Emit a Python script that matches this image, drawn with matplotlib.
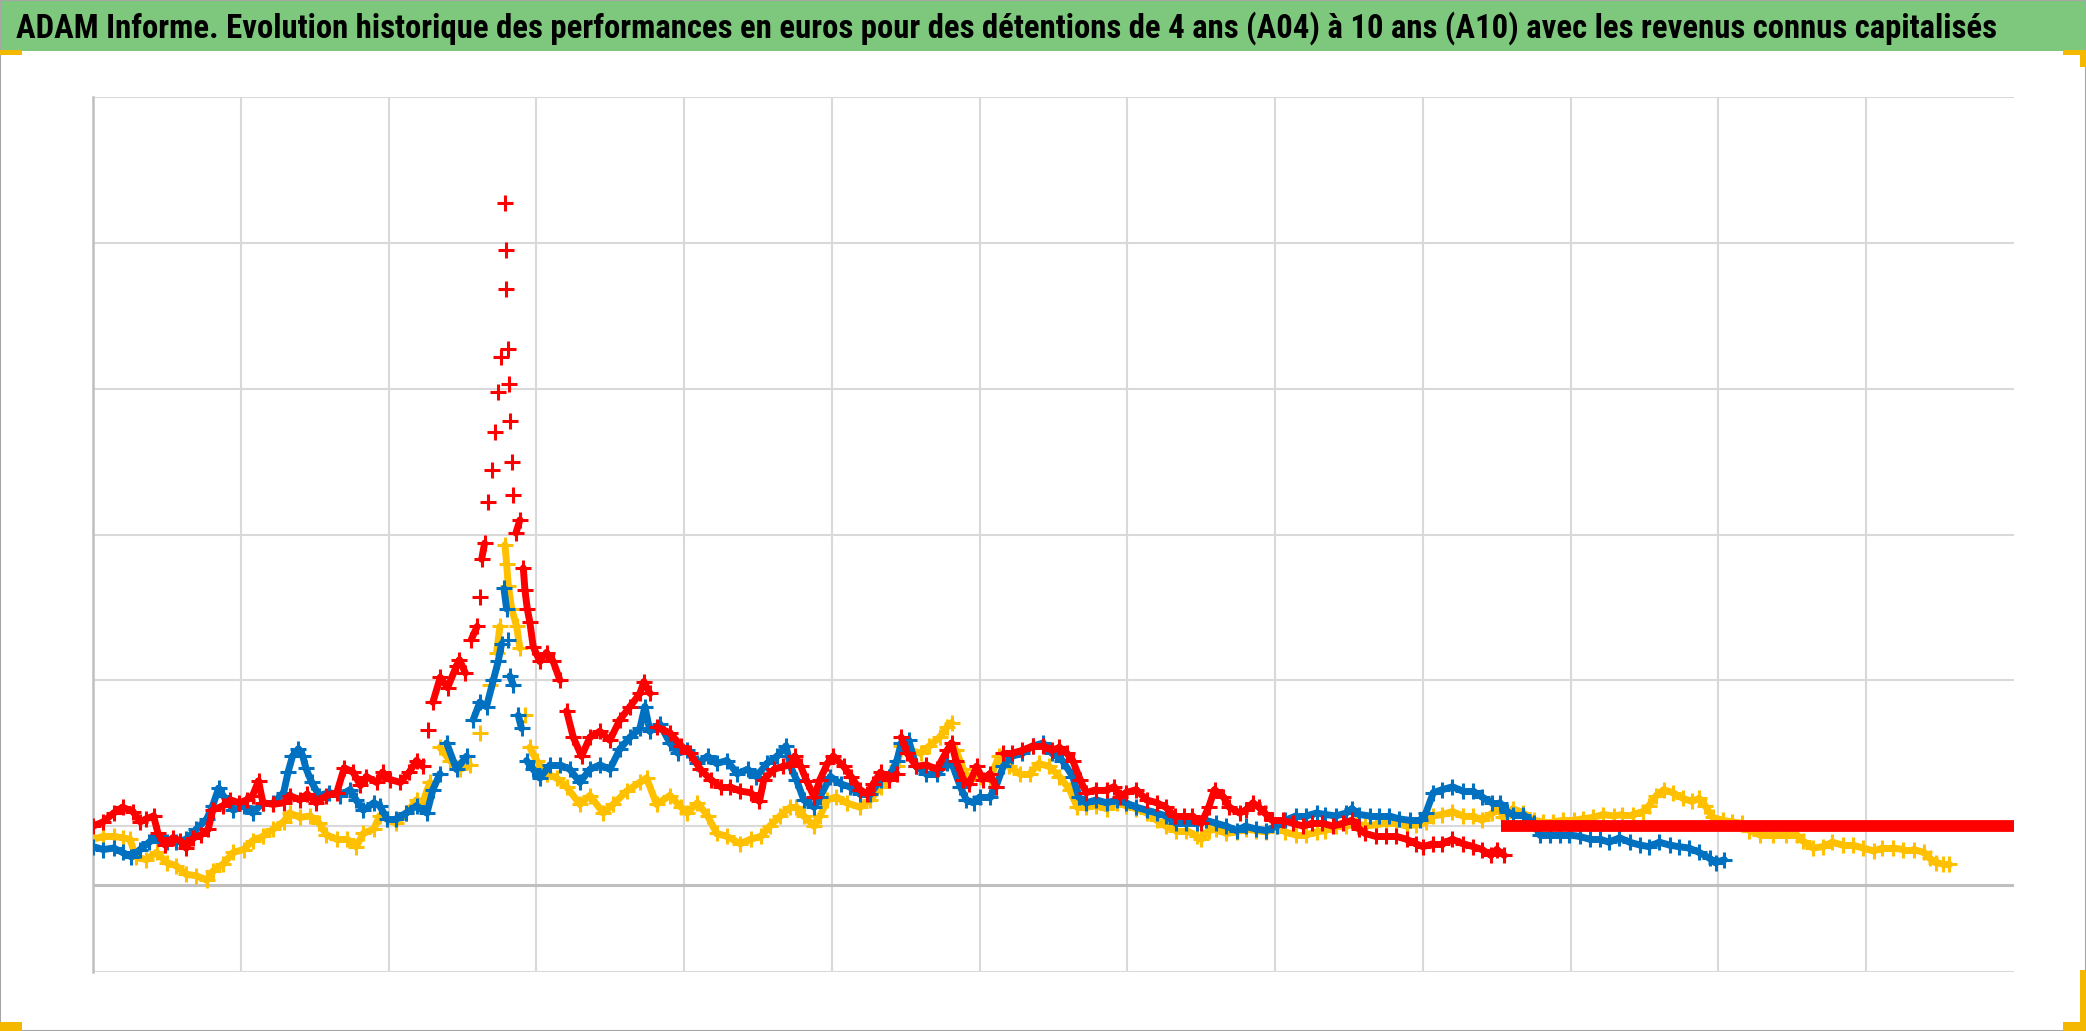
import matplotlib
matplotlib.use("Agg")
import matplotlib.pyplot as plt
from matplotlib import font_manager
from matplotlib.patches import Rectangle
from matplotlib.collections import LineCollection

# x: position along the time axis, in hundredths of a grid interval (13 intervals)
# y: performance, in hundredths of a grid unit (0 = horizontal axis)
title = ("ADAM Informe. Evolution historique des performances en euros pour des "
         "détentions de 4 ans (A04) à 10 ans (A10) avec les revenus connus capitalisés")

red_x = [0, 7, 14, 20, 27, 32, 36, 41, 44, 49,
         54, 59, 63, 68, 73, 78, 81, 88, 93, 99,
         104, 108, 112, 115, 122, 129, 133, 140, 145, 151,
         158, 165, 170, 176, 181, 185, 192, 196, 201, 208,
         214, 219, 223, 227, 230, 235, 240, 246, 248, 252,
         256, 260, 262, 263, 265, 267.5, 270, 272, 274, 276,
         278.5, 279.2, 279.7, 280.6, 281.5, 282.1, 283.3, 284.4, 286.2, 288.9,
         291.2, 292.3, 293.9, 295.6, 297.9, 302.4, 306.9, 311.4, 316, 320.5,
         325, 330.6, 336.3, 343, 349.8, 356.6, 363.4, 370.1, 372.8, 376.9,
         381.4, 390.4, 398, 404, 411, 418, 425, 431, 438, 445,
         451, 454, 461, 467, 472, 475, 479, 483, 488, 492,
         497, 501, 508, 513, 519, 524, 528, 533, 539, 544,
         547, 551, 557, 564, 571, 578, 581, 584, 589, 593,
         598, 602, 607, 611, 616, 622, 629, 636, 643, 649,
         654, 659, 663, 668, 672, 679, 686, 691, 695, 699,
         706, 713, 720, 726, 732, 738, 744, 750, 755, 759,
         765, 769, 776, 780, 785, 789, 793, 798, 805, 812,
         819, 825, 832, 839, 846, 852, 857, 861, 868, 875,
         882, 889, 895, 900, 907, 913, 920, 927, 934, 940,
         946, 950, 955]
red_y = [40, 43, 49, 53, 50, 43, 45, 47, 35, 27,
         32, 30, 25, 32, 34, 38, 51, 54, 58, 56,
         58, 61, 71, 56, 55, 56, 61, 58, 62, 56,
         61, 63, 80, 77, 68, 74, 70, 77, 72, 70,
         77, 85, 81, 106, 125, 142, 135, 150, 154, 145,
         168, 177, 197, 223, 234, 262, 284, 310, 338, 362,
         467, 435, 408, 367, 343, 318, 290, 267, 241, 250,
         217, 202, 189, 180, 163, 153, 159, 153, 140, 119,
         101, 88, 101, 105, 99, 113, 122, 131, 139, 131,
         108, 104, 95, 90, 79, 72, 67, 67, 64, 63,
         57, 72, 79, 81, 82, 88, 81, 71, 60, 72,
         83, 88, 81, 74, 65, 62, 69, 77, 72, 76,
         101, 90, 81, 82, 79, 92, 97, 85, 72, 69,
         81, 72, 76, 67, 90, 90, 92, 95, 95, 92,
         94, 90, 85, 72, 63, 65, 65, 67, 60, 63,
         65, 58, 56, 53, 47, 47, 47, 42, 53, 65,
         60, 53, 49, 51, 56, 53, 49, 44, 44, 42,
         40, 42, 42, 40, 42, 44, 38, 35, 33, 33,
         33, 31, 28, 26, 28, 28, 31, 28, 26, 24,
         20, 24, 20]

blue_x = [0, 7, 14, 20, 26, 32, 38, 44, 50, 56,
          63, 70, 77, 81, 85, 88, 95, 102, 108, 115,
          122, 129, 132, 135, 139, 142, 144, 148, 153, 160,
          167, 174, 178, 183, 190, 194, 199, 205, 212, 219,
          226, 230, 234.8, 239.3, 246, 252.8, 257.3, 261.8, 266.3, 270.9,
          274.2, 276.5, 278.1, 279.9, 281, 282.1, 284.4, 287.8, 290, 293.4,
          297.9, 302.4, 309.2, 316, 322.7, 329.5, 336.3, 343, 349.8, 356.6,
          363.4, 370.1, 373.5, 376.9, 383.6, 390.4, 396, 402, 409, 416,
          422, 429, 436, 443, 449, 456, 463, 469, 472, 476,
          481, 488, 492, 499, 506, 512, 519, 526, 533, 539,
          544, 547, 552, 557, 564, 571, 578, 582, 587, 591,
          596, 600, 607, 611, 616, 622, 629, 636, 643, 649,
          656, 663, 667, 672, 679, 686, 693, 699, 706, 713,
          720, 726, 733, 740, 747, 753, 760, 767, 774, 780,
          787, 794, 801, 807, 814, 821, 828, 834, 841, 848,
          852, 857, 864, 870, 877, 884, 891, 898, 902, 907,
          913, 920, 927, 934, 940, 947, 952, 957, 961, 968,
          975, 979, 986, 993, 999, 1006, 1013, 1020, 1026, 1033,
          1040, 1047, 1053, 1060, 1067, 1073, 1080, 1087, 1094, 1098,
          1104]
blue_y = [26, 24, 25, 22, 19, 24, 29, 33, 29, 29,
          31, 38, 45, 54, 66, 61, 51, 54, 49, 56,
          56, 63, 77, 88, 93, 88, 80, 70, 61, 63,
          61, 65, 58, 51, 56, 54, 45, 45, 49, 54,
          49, 65, 76, 97, 79, 88, 113, 125, 122, 140,
          153, 165, 203, 189, 168, 143, 137, 116, 107, 85,
          79, 73, 82, 82, 79, 70, 79, 82, 79, 93,
          101, 107, 122, 105, 110, 97, 90, 92, 83, 88,
          83, 85, 76, 79, 74, 83, 88, 95, 81, 72,
          58, 53, 60, 74, 69, 67, 62, 62, 72, 74,
          85, 97, 99, 81, 76, 76, 83, 81, 67, 58,
          56, 60, 60, 67, 81, 88, 90, 95, 97, 90,
          85, 74, 60, 56, 58, 56, 58, 56, 53, 51,
          49, 47, 42, 42, 42, 44, 42, 40, 37, 40,
          38, 37, 40, 44, 47, 47, 49, 48, 47, 49,
          52, 48, 47, 47, 47, 45, 44, 44, 49, 63,
          65, 67, 64, 64, 60, 56, 56, 50, 48, 48,
          42, 34, 34, 34, 34, 33, 31, 31, 29, 32,
          29, 27, 26, 29, 27, 26, 25, 22, 18, 15,
          17]

yellow_x = [0, 7, 14, 20, 25, 29, 36, 43, 50, 56,
            63, 70, 77, 81, 88, 95, 102, 108, 115, 122,
            129, 133, 140, 147, 153, 158, 165, 172, 178, 183,
            190, 194, 199, 205, 212, 219, 223, 228, 234.8, 241.5,
            248.3, 255, 261.8, 268.6, 273.1, 275.4, 278.8, 279.9, 281, 283.3,
            286.7, 288.9, 292.3, 295.6, 300.2, 306.9, 313.7, 320.5, 329.5, 336.3,
            345.3, 352.1, 361.1, 370.1, 374.6, 381.4, 390.4, 398, 402, 409,
            416, 422, 429, 438, 445, 452, 458, 465, 472, 476,
            481, 488, 492, 497, 503, 510, 519, 526, 533, 539,
            544, 547, 553, 560, 566, 573, 578, 581, 584, 589,
            593, 600, 607, 613, 620, 627, 634, 640, 647, 654,
            661, 666, 672, 679, 686, 693, 699, 706, 713, 720,
            726, 733, 740, 747, 750, 755, 760, 767, 774, 780,
            787, 794, 801, 807, 814, 821, 828, 834, 841, 848,
            855, 861, 868, 875, 882, 889, 895, 902, 907, 913,
            920, 927, 934, 940, 947, 952, 954, 961, 968, 975,
            981, 988, 995, 1002, 1008, 1015, 1022, 1029, 1035, 1042,
            1049, 1053, 1058, 1063, 1069, 1076, 1082, 1087, 1091, 1096,
            1103, 1109, 1116, 1121, 1128, 1137, 1146, 1153, 1157, 1164,
            1171, 1177, 1184, 1191, 1198, 1205, 1211, 1218, 1225, 1232,
            1239, 1243, 1247, 1252, 1256]
yellow_y = [31, 33, 33, 32, 31, 19, 17, 22, 15, 13,
            7, 6, 3, 9, 14, 22, 24, 30, 33, 38,
            43, 49, 46, 47, 42, 34, 31, 31, 26, 35,
            38, 47, 45, 42, 49, 58, 56, 70, 94, 85,
            79, 82, 104, 137, 159, 177, 233, 220, 205, 189,
            177, 162, 116, 94, 85, 76, 73, 67, 55, 61,
            49, 55, 64, 70, 73, 55, 61, 53, 49, 56,
            47, 35, 33, 28, 31, 33, 40, 47, 53, 53,
            47, 40, 47, 58, 60, 56, 53, 58, 67, 72,
            81, 95, 92, 90, 95, 101, 108, 111, 92, 79,
            72, 74, 72, 88, 81, 76, 76, 83, 81, 74,
            65, 53, 53, 54, 52, 56, 54, 52, 49, 44,
            40, 37, 37, 33, 31, 37, 38, 35, 36, 38,
            37, 36, 40, 36, 34, 34, 36, 37, 40, 40,
            42, 40, 41, 42, 42, 40, 41, 43, 47, 48,
            50, 47, 47, 44, 49, 53, 46, 52, 49, 44,
            43, 43, 44, 44, 45, 46, 48, 47, 48, 48,
            50, 54, 61, 65, 63, 59, 57, 59, 54, 46,
            44, 43, 42, 37, 34, 34, 34, 34, 30, 25,
            26, 29, 27, 27, 25, 23, 25, 25, 24, 24,
            22, 18, 15, 14, 14]

# constant placeholder values shown at the end of the period
flat_x = [953, 1300]
flat_y = [40, 40]

x_grid = [0, 100, 200, 300, 400, 500, 600, 700, 800, 900, 1000, 1100, 1200]
y_grid = [-60, 40, 140, 240, 340, 440, 540]

RED = "#FF0000"
BLUE = "#0070C0"
YELLOW = "#FFC000"
GREEN = "#7DC87D"
HANDLE = "#F5B800"

W, H = 2086, 1031
fig = plt.figure(figsize=(W / 100, H / 100), dpi=100)
fig.patch.set_facecolor("white")

ax = fig.add_axes([93 / W, 59 / H, 1921 / W, 875 / H])
ax.set_xlim(0, 1300)
ax.set_ylim(-60, 540)
ax.set_xticks(x_grid)
ax.set_yticks(y_grid)
ax.tick_params(length=0, labelbottom=False, labelleft=False)
ax.grid(True, color="#D9D9D9", lw=1.5, zorder=0)
ax.set_axisbelow(True)
for s in ("top", "right", "bottom"):
    ax.spines[s].set_visible(False)
ax.spines["left"].set_color("#BFBFBF")
ax.spines["left"].set_linewidth(1.8)
ax.axhline(0, color="#BFBFBF", lw=2.2, zorder=1)


def draw_series(xs, ys, color, z):
    # dense cloud of '+' markers: a thick band where the series moves slowly,
    # isolated crosses where it jumps
    segs, widths = [], []
    for i in range(len(xs) - 1):
        segs.append([(xs[i], ys[i]), (xs[i + 1], ys[i + 1])])
        widths.append(5.0 if abs(ys[i + 1] - ys[i]) <= 18 else 0.0)
    ax.add_collection(LineCollection(segs, colors=color, linewidths=widths,
                                     capstyle="round", joinstyle="round", zorder=z))
    ax.plot(xs, ys, ls="none", marker="+", ms=12, mew=2.2, color=color, zorder=z)


draw_series(yellow_x, yellow_y, YELLOW, 3)
draw_series(blue_x, blue_y, BLUE, 4)
draw_series(red_x, red_y, RED, 5)
ax.plot(flat_x, flat_y, color=RED, lw=8.5, solid_capstyle="butt", zorder=6)

# title bar
fig.patches.append(Rectangle((0, 1 - 51 / H), 1, 51 / H, transform=fig.transFigure,
                             facecolor=GREEN, edgecolor="none", zorder=0))

avail = {f.name for f in font_manager.fontManager.ttflist}
fam = "DejaVu Sans"
for cand in ["Liberation Sans Narrow", "Roboto Condensed", "Open Sans Condensed",
             "Liberation Sans", "Open Sans"]:
    if cand in avail:
        fam = cand
        break
t = fig.text(16 / W, 1 - 38 / H, title, fontsize=24, fontweight="bold",
             family=[fam, "DejaVu Sans"], ha="left", va="baseline", color="black")
fig.canvas.draw()
w = t.get_window_extent(fig.canvas.get_renderer()).width
t.set_fontsize(24 * 1990 / w)

# frame and selection handles
fig.patches.append(Rectangle((0, 0), 1, 1, transform=fig.transFigure, fill=False,
                             edgecolor="#A6A6A6", lw=1.5, zorder=10))


def px_rect(x0, y0, x1, y1):
    fig.patches.append(Rectangle((x0 / W, 1 - y1 / H), (x1 - x0) / W, (y1 - y0) / H,
                                 transform=fig.transFigure, facecolor=HANDLE,
                                 edgecolor="none", zorder=11))


px_rect(0, 50, 22, 55)
px_rect(2063, 50, 2086, 55)
px_rect(2080, 50, 2086, 67)
px_rect(0, 1022, 22, 1031)
px_rect(2080, 970, 2086, 1031)
px_rect(2063, 1022, 2086, 1031)

fig.savefig("out.png", dpi=100, facecolor="white")
